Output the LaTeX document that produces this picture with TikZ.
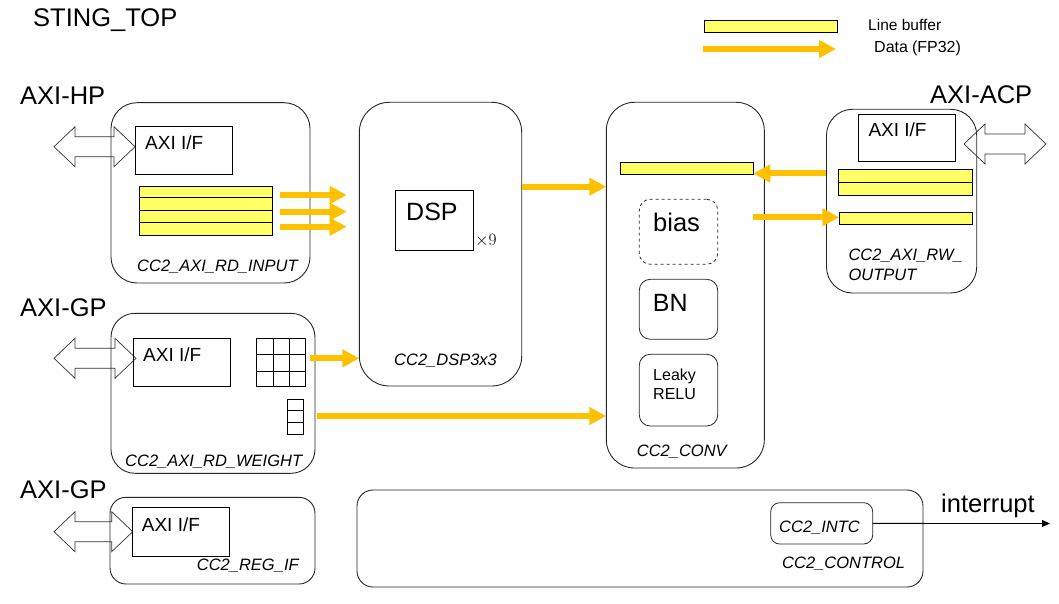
\documentclass[tikz,border=0pt]{standalone}
\usepackage{fontspec}
\setmainfont{Liberation Sans}
\usetikzlibrary{arrows.meta,fit}
\definecolor{lbyellow}{HTML}{FFFF66}
\definecolor{dataorange}{HTML}{FFC000}
\newcommand\dblarr[3]{%
  \draw[line width=0.7pt,draw=black!80] (#1,#3) -- ({#1+21},{#3-20}) -- ({#1+21},{#3-10}) -- ({#2-21},{#3-10}) -- ({#2-21},{#3-20}) -- (#2,#3) -- ({#2-21},{#3+20}) -- ({#2-21},{#3+10}) -- ({#1+21},{#3+10}) -- ({#1+21},{#3+20}) -- cycle;}
\begin{document}
\begin{tikzpicture}[x=1pt,y=-1pt,
  blk/.style={draw=black!85,line width=0.9pt,inner sep=0pt,outer sep=0pt},
  sqbox/.style={draw,line width=0.8pt,inner sep=0pt,outer sep=0pt},
  lbuf/.style={draw,line width=0.8pt,fill=lbyellow,inner sep=0pt,outer sep=0pt},
  dataarrow/.style={draw=dataorange,line width=6pt,-{Triangle[length=17pt,width=17pt]}},
  txt/.style={inner sep=0pt,anchor=base west},
  big/.style={txt,font=\fontsize{25.5}{30}\selectfont},
  axif/.style={txt,font=\fontsize{19}{22}\selectfont},
  lab/.style={txt,font=\fontsize{16.5}{19}\selectfont\itshape},
  small/.style={txt,font=\fontsize{16}{19}\selectfont},
  leg/.style={txt,font=\fontsize{15.5}{18}\selectfont}]
\useasboundingbox (0,0) rectangle (1059,604);

% title and port labels
\node[big] (title) at (33,27) {STING\_TOP};
\node[big] (lhp) at (20,105) {AXI-HP};
\node[big] (lgp1) at (20,316) {AXI-GP};
\node[big] (lgp2) at (20,498.5) {AXI-GP};
\node[big] (lacp) at (930,103.5) {AXI-ACP};

% legend
\node[lbuf,fit={(704.3,20.7) (837.3,32.7)}] (legbuf) {};
\node[leg] (leglb) at (868,30.5) {Line buffer};
\coordinate (legas) at (703,49);
\coordinate (legae) at (836,49);
\draw[dataarrow] (legas) -- (legae);
\node[leg,font=\fontsize{16}{19}\selectfont] (legdata) at (874,53) {Data\hspace{4pt}(FP32)};

% CC2_AXI_RD_INPUT
\dblarr{54}{135}{146.7}
\node[blk,rounded corners=26pt,fit={(111,102.7) (310,283)}] (inp) {};
\node[sqbox,fit={(135,126.3) (232.3,174.3)}] (inpif) {};
\node[axif] (inpiftxt) at (145,150) {AXI I/F};
\node[lbuf,fit={(139.3,186.5) (272.7,197.3)}] (ib1) {};
\node[lbuf,fit={(139.3,197.3) (272.7,210.7)}] (ib2) {};
\node[lbuf,fit={(139.3,210.7) (272.7,222.7)}] (ib3) {};
\node[lbuf,fit={(139.3,222.7) (272.7,235.3)}] (ib4) {};
\node[lab] (inplab) at (137,271.7) {CC2\_AXI\_RD\_INPUT};

% CC2_AXI_RD_WEIGHT
\dblarr{54}{136}{358.3}
\node[blk,rounded corners=24pt,fit={(111,313.3) (315,473.3)}] (wgt) {};
\node[sqbox,fit={(133.3,338.3) (230.7,386.7)}] (wgtif) {};
\node[axif] (wgtiftxt) at (143,361.7) {AXI I/F};
\node[sqbox,fit={(256,338.3) (305.3,386.7)}] (grid) {};
\draw[line width=0.8pt] (273.3,338.3) -- (273.3,386.7) (289.3,338.3) -- (289.3,386.7) (256,371) -- (305.3,371);
\draw[line width=1.5pt] (256,354.3) -- (305.3,354.3);
\node[sqbox,fit={(287.3,399.3) (303.3,434)}] (sgrid) {};
\draw[line width=0.8pt] (287.3,422.7) -- (303.3,422.7);
\draw[line width=1.5pt] (287.3,410.7) -- (303.3,410.7);
\node[lab] (wgtlab) at (125,466.7) {CC2\_AXI\_RD\_WEIGHT};

% CC2_REG_IF
\dblarr{54}{132.7}{531.7}
\node[blk,rounded corners=16pt,fit={(110,497.3) (315,584)}] (reg) {};
\node[sqbox,fit={(132.7,507.3) (229.3,556)}] (regif) {};
\node[axif] (regiftxt) at (141.7,531) {AXI I/F};
\node[lab] (reglab) at (196.7,570) {CC2\_REG\_IF};

% CC2_DSP3x3
\node[blk,rounded corners=30pt,fit={(359.3,102.3) (521.7,386)}] (dsp3) {};
\node[sqbox,fit={(395,190) (473.7,250.3)}] (dsp) {};
\node[big,font=\fontsize{25}{30}\selectfont] (dsptxt) at (406,220) {DSP};
\node[txt,font=\fontsize{18}{21}\selectfont] (times9) at (475,245) {$\times 9$};
\node[lab] (dsplab) at (394,365.5) {CC2\_DSP3x3};

% CC2_CONV
\node[blk,rounded corners=28pt,fit={(606.3,102.3) (764.3,468)}] (conv) {};
\node[lbuf,fit={(620.7,162.3) (753.3,174.3)}] (cbuf) {};
\node[blk,dashed,rounded corners=11pt,line width=0.8pt,fit={(639.3,199.3) (717.7,264.3)}] (bias) {};
\node[big] (biastxt) at (653,231.7) {bias};
\node[blk,rounded corners=11pt,line width=0.8pt,fit={(639.3,279.3) (717.7,339.3)}] (bn) {};
\node[big,font=\fontsize{25}{30}\selectfont] (bntxt) at (652.7,311.7) {BN};
\node[blk,rounded corners=11pt,line width=0.8pt,fit={(639.3,354.3) (717.7,426)}] (relu) {};
\node[small] (relutxt1) at (653,380) {Leaky};
\node[small] (relutxt2) at (653,399.3) {RELU};
\node[lab] (convlab) at (636.7,456.7) {CC2\_CONV};

% CC2_AXI_RW_OUTPUT
\node[blk,rounded corners=26pt,fit={(826.5,109.3) (976.7,293)}] (outb) {};
\node[sqbox,fit={(858.3,114.3) (955.7,161.7)}] (outif) {};
\node[axif] (outiftxt) at (868.3,136.7) {AXI I/F};
\node[lbuf,fit={(838.7,169.3) (972.7,182.7)}] (ob1) {};
\node[lbuf,fit={(838.7,182.7) (972.7,195.3)}] (ob2) {};
\draw[line width=1.5pt] (ob1.south west) -- (ob1.south east);
\node[lbuf,fit={(839.3,212.7) (972.7,224.7)}] (ob3) {};
\node[lab] (outlab1) at (848.3,260) {CC2\_AXI\_RW\_};
\node[lab] (outlab2) at (848.3,280) {OUTPUT};
\dblarr{964}{1046}{144}

% CC2_CONTROL
\node[blk,rounded corners=16pt,fit={(357,490) (923,587)}] (ctrl) {};
\node[blk,rounded corners=9pt,line width=0.8pt,fit={(770.7,502.7) (872.7,544)}] (intc) {};
\node[lab] (intctxt) at (779,532.7) {CC2\_INTC};
\node[lab] (ctrllab) at (782,568.5) {CC2\_CONTROL};
\coordinate (irqend) at (1050,523.5);
\draw[line width=0.8pt,-{Triangle[length=8pt,width=7pt]}] (intc.east) -- (irqend);
\node[big] (irqtxt) at (941,512.7) {interrupt};

% data arrows
\coordinate (in1s) at (280,195);   \coordinate (in1e) at (346.7,195);
\coordinate (in2s) at (280,211.7); \coordinate (in2e) at (346.7,211.7);
\coordinate (in3s) at (280,226.7); \coordinate (in3e) at (346.7,226.7);
\draw[dataarrow] (in1s) -- (in1e);
\draw[dataarrow] (in2s) -- (in2e);
\draw[dataarrow] (in3s) -- (in3e);
\coordinate (gs) at (310,358.3);
\draw[dataarrow] (gs) -- (dsp3.west |- gs);
\coordinate (sgs) at (317,416);
\draw[dataarrow] (sgs) -- (conv.west |- sgs);
\coordinate (dspy) at (0,186.7);
\draw[dataarrow] (dsp3.east |- dspy) -- (conv.west |- dspy);
\coordinate (acps) at (826,173.5);
\draw[dataarrow] (acps) -- (cbuf.east |- acps);
\coordinate (cvs) at (753.3,217.3);
\draw[dataarrow] (cvs) -- (ob3.west |- cvs);
\end{tikzpicture}
\end{document}
